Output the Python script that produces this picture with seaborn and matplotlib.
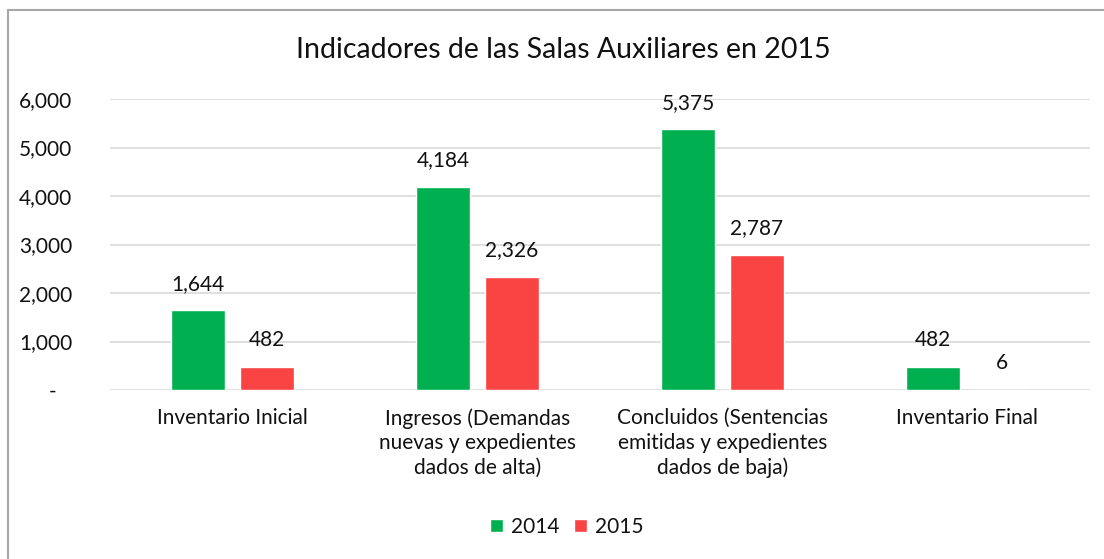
import pandas as pd
import seaborn as sns
import matplotlib.pyplot as plt
from matplotlib.patches import Rectangle
from matplotlib.ticker import FuncFormatter

categories = ["Inventario Inicial",
              "Ingresos (Demandas\nnuevas y expedientes\ndados de alta)",
              "Concluidos (Sentencias\nemitidas y expedientes\ndados de baja)",
              "Inventario Final"]
years = ["2014", "2015"]
v2014 = [1644, 4184, 5375, 482]
v2015 = [482, 2326, 2787, 6]

df = pd.DataFrame({
    "Indicador": categories * 2,
    "Año": [years[0]] * 4 + [years[1]] * 4,
    "Valor": v2014 + v2015,
})

sns.set_style("white")
plt.rcParams["font.family"] = ["Lato", "DejaVu Sans"]
plt.rcParams["text.color"] = "#111111"

fig = plt.figure(figsize=(11.04, 5.59), dpi=100)
ax = fig.add_axes([110 / 1104, 1 - 390 / 559, 980 / 1104, (390 - 99) / 559])

sns.barplot(data=df, x="Indicador", y="Valor", hue="Año", order=categories,
            palette=["#00B050", "#FA4343"], width=0.563, gap=0.203,
            saturation=1, ax=ax)

for cont in ax.containers:
    ax.bar_label(cont, labels=[f"{v:,.0f}" for v in cont.datavalues],
                 padding=12, fontsize=15, color="#111111")

ax.set_ylim(0, 6000)
ax.set_yticks(range(0, 6001, 1000))
ax.yaxis.set_major_formatter(FuncFormatter(lambda v, p: "-   " if v == 0 else f"{v:,.0f}"))
ax.tick_params(axis="y", labelsize=15, pad=27, length=0, labelcolor="#111111")
ax.tick_params(axis="x", labelsize=15, pad=13, length=0, labelcolor="#111111")
for lab in ax.get_xticklabels():
    lab.set_linespacing(1.3)
    lab.set_verticalalignment("top")
ax.grid(axis="y", color="#d9d9d9", linewidth=1.2)
ax.set_axisbelow(True)
sns.despine(ax=ax, left=True, bottom=True, top=True, right=True)
ax.set_xlabel("")
ax.set_ylabel("")

fig.text(563 / 1104, 1 - 50 / 559, "Indicadores de las Salas Auxiliares en 2015",
         ha="center", va="center", fontsize=20.5)

ax.legend(loc="center", bbox_to_anchor=(567 / 1104, 1 - 527 / 559),
          bbox_transform=fig.transFigure, ncol=2, frameon=False, fontsize=15,
          handlelength=0.6, handleheight=0.6, handletextpad=0.4, columnspacing=0.7)

fig.patches.append(Rectangle((8 / 1104, -0.1), 1.2, 1.1 - 10 / 559,
                             transform=fig.transFigure, fill=False,
                             edgecolor="#a6a6a6", linewidth=1.5, zorder=0))

fig.savefig("out.png", dpi=100, facecolor="white")
